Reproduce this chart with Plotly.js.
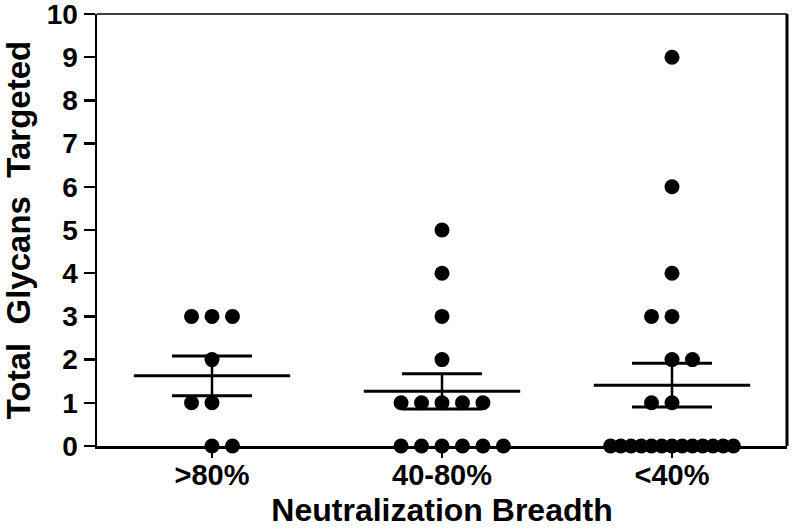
<!DOCTYPE html>
<html>
<head>
<meta charset="utf-8">
<script src="https://cdn.plot.ly/plotly-3.0.1.min.js"></script>
<style>html,body{margin:0;padding:0;background:#fff;}#chart{width:792px;height:532px;}</style>
</head>
<body>
<div id="chart"></div>
<script>
// ---- Data ----
var categories = ['>80%', '40-80%', '<40%'];
var yTickVals = [0,1,2,3,4,5,6,7,8,9,10];

var valuesHigh = [3,3,3,2,1,1,0,0];
var valuesMid  = [5,4,3,2,1,1,1,1,1,0,0,0,0,0,0];
var valuesLow  = [9,6,4,3,3,2,2,1,1,0,0,0,0,0,0,0,0,0,0,0,0,0];

// horizontal scatter slot of each point (GraphPad-style column scatter)
var slotsHigh = [-1,0,1,0,-1,0,0,1];
var slotsMid  = [0,0,0,0,-2,-1,0,1,2,-2,-1,0,1,2,3];
var slotsLow  = [0,0,0,-1,0,0,1,-1,0,-3,-2.5,-2,-1.5,-1,-0.5,0,0.5,1,1.5,2,2.5,3];

// ---- Build traces ----
var groups = [valuesHigh, valuesMid, valuesLow];
var slots = [slotsHigh, slotsMid, slotsLow];
var slotWidth = 0.089;
var meanHalf = 0.34, semHalf = 0.174;
var fam = 'Liberation Sans, Arial, Helvetica, sans-serif';

function stats(a){
  var n = a.length, m = a.reduce(function(s,v){return s+v;},0)/n;
  var ss = a.reduce(function(s,v){return s+(v-m)*(v-m);},0);
  return {mean: m, sem: Math.sqrt(ss/(n-1))/Math.sqrt(n)};
}

var traces = [];
groups.forEach(function(vals, gi){
  var st = stats(vals);
  var lineStyle = {color:'#000', width:3};
  traces.push({x:[gi-meanHalf, gi+meanHalf], y:[st.mean, st.mean], mode:'lines', line:lineStyle, hoverinfo:'skip', cliponaxis:false});
  traces.push({x:[gi-semHalf, gi+semHalf], y:[st.mean+st.sem, st.mean+st.sem], mode:'lines', line:lineStyle, hoverinfo:'skip', cliponaxis:false});
  traces.push({x:[gi-semHalf, gi+semHalf], y:[st.mean-st.sem, st.mean-st.sem], mode:'lines', line:lineStyle, hoverinfo:'skip', cliponaxis:false});
  traces.push({x:[gi, gi], y:[st.mean-st.sem, st.mean+st.sem], mode:'lines', line:{color:'#000', width:2.5}, hoverinfo:'skip', cliponaxis:false});
});
groups.forEach(function(vals, gi){
  traces.push({
    x: vals.map(function(v,i){return gi + slots[gi][i]*slotWidth;}),
    y: vals,
    mode: 'markers',
    marker: {color:'#000', size:15, line:{width:0}},
    cliponaxis: false,
    name: categories[gi]
  });
});

var layout = {
  width: 792, height: 532,
  margin: {l:97, r:5, t:14, b:86},
  paper_bgcolor: '#fff', plot_bgcolor: '#fff',
  showlegend: false,
  font: {family: fam, color: '#000', weight: 700},
  xaxis: {
    range: [-0.5, 2.5], tickvals: [0,1,2], ticktext: categories,
    showgrid: false, zeroline: false, showline: true, linecolor: '#000', linewidth: 2.5,
    ticks: 'outside', ticklen: 9, tickwidth: 2.5, tickcolor: '#000',
    ticklabeloverflow: 'allow', ticklabelstandoff: -7,
    tickfont: {family: fam, size: 29, color: '#000', weight: 700},
    title: {text: 'Neutralization Breadth', font: {family: fam, size: 32, color: '#000', weight: 700}, standoff: 9},
    fixedrange: true
  },
  yaxis: {
    range: [0, 10], tickvals: yTickVals, ticktext: yTickVals.map(String),
    showgrid: false, zeroline: false, showline: true, linecolor: '#000', linewidth: 2.5,
    ticks: 'outside', ticklen: 11, tickwidth: 2.5, tickcolor: '#000',
    ticklabeloverflow: 'allow',
    tickfont: {family: fam, size: 28, color: '#000', weight: 700},
    title: {text: 'Total  Glycans  Targeted', font: {family: fam, size: 33, color: '#000', weight: 700}, standoff: 27},
    fixedrange: true
  },
  shapes: [
    {type:'line', xref:'paper', yref:'paper', x0:0, x1:1, y0:1, y1:1, line:{color:'#000', width:1.5}},
    {type:'line', xref:'paper', yref:'paper', x0:1, x1:1, y0:0, y1:1, line:{color:'#000', width:3}}
  ]
};

Plotly.newPlot('chart', traces, layout, {displayModeBar:false, staticPlot:true});
</script>
</body>
</html>
